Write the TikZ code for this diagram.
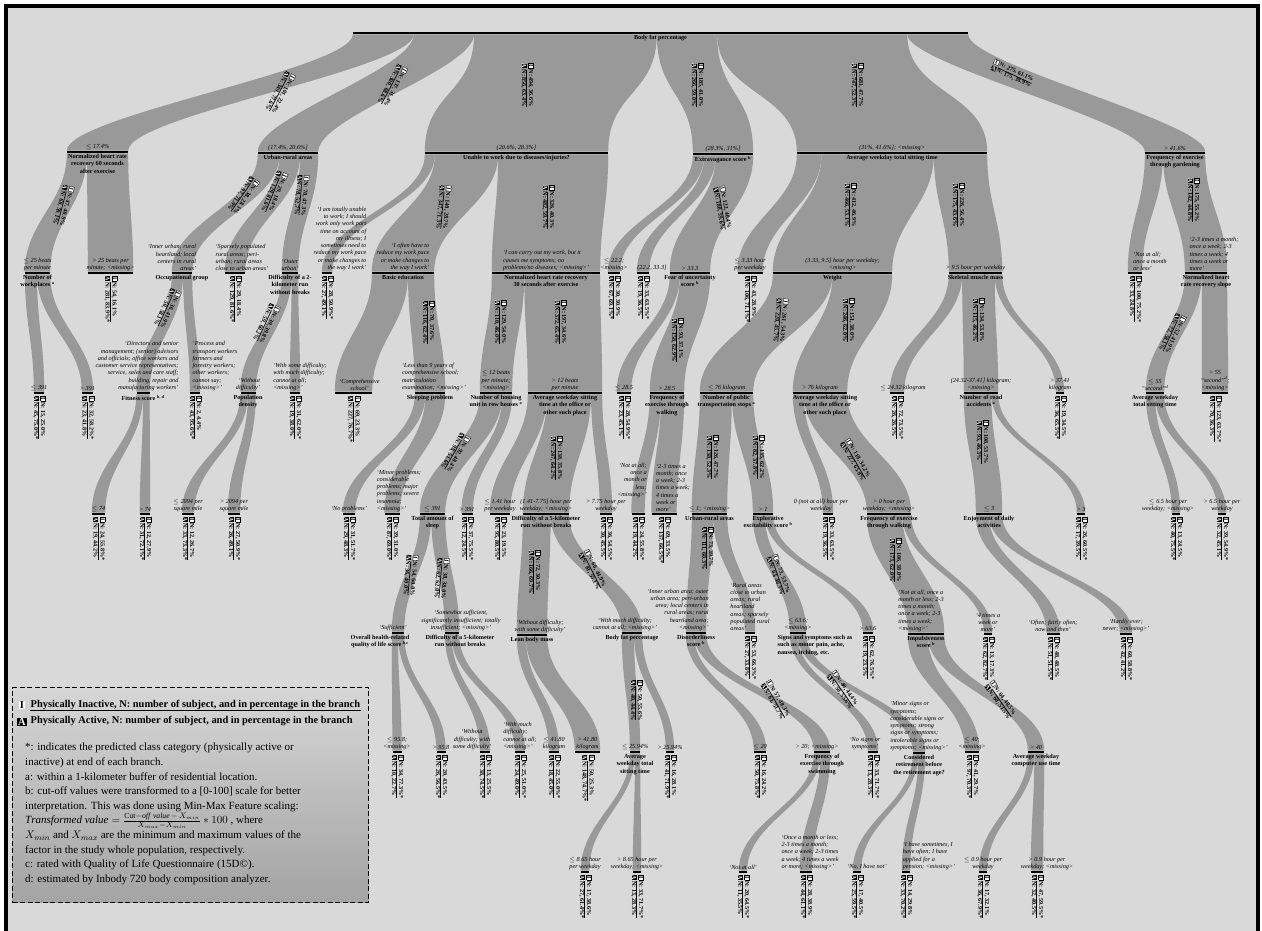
\documentclass[tikz,border=0pt]{standalone}
\usepackage{fontspec}
\setmainfont{Liberation Serif}
\usetikzlibrary{calc}
\definecolor{bgc}{HTML}{D9D9D9}
\definecolor{bandc}{HTML}{999999}
\pgfdeclarelayer{bgl}
\pgfdeclarelayer{bandl}
\pgfsetlayers{bgl,bandl,main}

\newcommand\iconI{{\setlength\fboxsep{0.4pt}\setlength\fboxrule{0.3pt}\fcolorbox{black}{white}{\makebox[4pt]{I}}}}
\newcommand\iconA{{\setlength\fboxsep{0.4pt}\colorbox{black}{\makebox[4pt]{\color{white}A}}}}
\newcommand\cntbox[2]{{\renewcommand\arraystretch{0.95}\setlength\arrayrulewidth{0.7pt}\begin{tabular}{@{}c@{\hspace{1pt}}l@{}}\iconI & #1\\\cline{2-2}\iconA & #2\end{tabular}}}
\newcommand\legI{{\setlength\fboxsep{1pt}\colorbox{white}{\textbf{I}}}}
\newcommand\legA{{\setlength\fboxsep{1pt}\colorbox{black}{\color{white}\textbf{A}}}}

\tikzset{
  bar/.style={fill=black, inner sep=0pt, minimum height=2.2pt},
  thr/.style={font=\fontsize{6.2}{7.3}\selectfont\itshape, align=center, inner sep=0.6pt},
  var/.style={font=\fontsize{6.2}{7.3}\selectfont\bfseries, align=center, inner sep=0.8pt},
  cnt/.style={font=\fontsize{6.1}{7.2}\selectfont\bfseries, inner sep=0.3pt},
}

% internal node: [thr opts]{name}{x}{y}{w}{threshold}{variable}{var opts}
\newcommand\TNode[8][]{%
  \node[bar, minimum width=#5pt] (#2) at (#3,#4) {};
  \node[thr, anchor=south, #1] (#2t) at (#2.north) {#6};
  \node[var, anchor=north, #8] (#2v) at (#2.south) {#7};
}
% leaf: [thr opts]{name}{x}{y}{w}{threshold}{I count}{A count}
\newcommand\LNode[8][]{%
  \node[bar, minimum width=#5pt] (#2) at (#3,#4) {};
  \node[thr, anchor=south, #1] (#2t) at (#2.north) {#6};
  \node[cnt, rotate=-90, anchor=west] (#2c) at ([yshift=-1.2pt]#2.south) {\cntbox{#7}{#8}};
}
% band: [control]{parent}{f1}{f2}{child}
\newcommand\Band[5][50]{%
  \fill[bandc] ($(#2.south west)!#3!(#2.south east)$) .. controls +(0,#1) and +(0,-#1) .. (#5.north west)
    -- (#5.north east) .. controls +(0,-#1) and +(0,#1) .. ($(#2.south west)!#4!(#2.south east)$) -- cycle;
}
% band count label: {name}{x}{y}{angle}{I}{A}
\newcommand\BandL[6]{\node[cnt, rotate=#4] (#1) at (#2,#3) {\cntbox{#5}{#6}};}

\begin{document}
\begin{tikzpicture}[x=1pt,y=-1pt]
\useasboundingbox (0,0) rectangle (1262,930);
\begin{pgfonlayer}{bgl}
  \fill[white] (0,0) rectangle (1262,930);
  \fill[bgc] (5.5,5.5) rectangle (1258,940);
  \draw[line width=4pt] (5.5,940) -- (5.5,5.5) -- (1258,5.5) -- (1258,940);
\end{pgfonlayer}

% ---------- level 1
\TNode{r}{660.5}{33}{615}{}{Body fat percentage}{}
\TNode{n1}{97.5}{152}{61}{$\leq$ 17.4\%}{Normalized heart rate\\recovery 60 seconds\\after exercise}{}
\TNode{n2}{288}{153}{60}{(17.4\%, 20.6\%]}{Urban-rural areas}{}
\TNode{n3}{516.5}{153}{183}{(20.6\%, 28.3\%]}{Unable to work due to diseases/injuries?}{}
\TNode{n4}{723}{154}{60}{(28.3\%, 31\%]}{Extravagance score \textsuperscript{b}}{}
\TNode{n5}{892}{153}{190}{(31\%, 41.6\%]; <missing>}{Average weekday total sitting time}{}
\TNode{n6}{1175}{153}{60}{> 41.6\%}{Frequency of exercise\\through gardening}{}

% ---------- n1
\TNode{n11}{37.5}{273}{25}{$\leq$ 25 beats\\per minute}{Number of\\workplaces \textsuperscript{a}}{}
\LNode{n12}{110.5}{273}{45}{> 25 beats per\\minute; <missing>}{N: 54, 16.1\%}{N: 281, 83.9\%*}
\LNode{n111}{39}{393}{10}{$\leq$ 391}{N: 15, 25.0\%}{N: 45, 75.0\%*}
\LNode{n112}{87.5}{393}{11}{> 391}{N: 32, 58.2\%*}{N: 23, 41.8\%}

% ---------- n2
\TNode[xshift=-10pt,align=right]{n21}{182}{273}{20}{`Inner urban; rural\\heartland; local\\centers in rural\\areas'}{Occupational group}{}
\LNode[xshift=7pt,align=left]{n22}{235}{273}{20}{`Sparsely populated\\rural areas; peri-\\urban; rural areas\\close to urban areas'}{N: 29, 18.4\%}{N: 129, 81.6\%*}
\TNode{n23}{290}{273}{16}{`Outer\\urban'}{Difficulty of a 2-\\kilometer run\\without breaks}{}
\TNode[xshift=-6pt,align=right]{n211}{143}{393}{13}{`Directors and senior\\management; (senior) advisors\\and officials; office workers and\\customer service representatives;\\service, sales and care staff;\\building, repair and\\manufacturing workers'}{Fitness score \textsuperscript{b, d}}{}
\LNode[xshift=20pt,align=left]{n212}{195}{393}{10}{`Process and\\transport workers\\farmers and\\forestry workers;\\other workers;\\cannot say;\\<missing>'}{N: 2, 4.4\%}{N: 43, 95.6\%*}
\LNode{n2111}{98.5}{514}{13}{$\leq$ 74}{N: 24, 55.8\%*}{N: 19, 44.2\%}
\LNode{n2112}{145}{514}{10}{> 74}{N: 12, 27.9\%}{N: 31, 72.1\%*}
\TNode[align=right]{n231}{248}{393}{15}{`Without\\difficulty'}{Population\\density}{}
\LNode[xshift=5pt,align=left]{n232}{295}{393}{10}{`With some difficulty;\\with much difficulty;\\cannot at all;\\<missing>'}{N: 31, 62.0\%*}{N: 19, 38.0\%}
\LNode{n2311}{188}{514}{12}{$\leq$ 2094 per\\square mile}{N: 12, 26.7\%}{N: 33, 73.3\%*}
\LNode{n2312}{234}{514}{12}{> 2094 per\\square mile}{N: 27, 50.9\%*}{N: 26, 49.1\%}

% ---------- n3
\LNode[xshift=13pt,align=right]{n31}{327}{273}{10}{`I am totally unable\\to work; I should\\work only work part\\time on account of\\my illness; I\\sometimes need to\\reduce my work pace\\or make changes to\\the way I work'}{N: 28, 50.9\%*}{N: 27, 49.1\%}
\TNode[align=right]{n32}{403}{273}{62}{`I often have to\\reduce my work pace\\or make changes to\\the way I work'}{Basic education}{}
\TNode[align=left]{n33}{546}{273}{108}{`I can carry out my work, but it\\causes me symptoms; no\\problems/no diseases; <missing>'}{Normalized heart rate recovery\\30 seconds after exercise}{}
\LNode[xshift=6pt]{n321}{353.5}{393}{37}{`Comprehensive\\school'}{N: 69, 23.3\%}{N: 227, 76.7\%*}
\TNode[xshift=4pt,align=left]{n322}{430}{393}{30}{`Less than 9 years of\\comprehensive school;\\matriculation\\examination; <missing>'}{Sleeping problem}{}
\LNode{n3221}{349}{514}{12}{`No problems'}{N: 31, 51.7\%*}{N: 29, 48.3\%}
\LNode[xshift=7pt,align=left]{n3222}{392}{514}{15}{`Minor problems;\\considerable\\problems; major\\problems; severe\\insomnia;\\<missing>'}{N: 39, 31.0\%}{N: 87, 69.0\%*}
\TNode{n331}{496}{393}{32}{$\leq$ 12 beats\\per minute;\\<missing>}{Number of housing\\unit in row houses \textsuperscript{a}}{}
\TNode{n332}{565}{393}{74}{> 12 beats\\per minute}{Average weekday sitting\\time at the office or\\other such place}{}
\TNode{n3311}{432.5}{514}{25}{$\leq$ 391}{Total amount of\\sleep}{}
\LNode{n3312}{467}{514}{11}{> 391}{N: 37, 75.5\%*}{N: 12, 24.5\%}
\TNode[xshift=-5pt]{n33111}{398}{633}{12}{`Sufficient'}{Overall health-related\\quality of life score \textsuperscript{b,c}}{xshift=-18pt}
\TNode[xshift=9pt]{n33112}{452}{633}{14}{`Somewhat sufficient,\\significantly insufficient; totally\\insufficient; <missing>'}{Difficulty of a 5-kilometer\\run without breaks}{xshift=8pt}
\LNode{n331111}{397}{752}{9}{$\leq$ 95.8;\\<missing>}{N: 34, 77.3\%*}{N: 10, 22.7\%}
\LNode{n331112}{441}{752}{9}{> 95.8}{N: 20, 43.5\%}{N: 26, 56.5\%*}
\LNode[xshift=-13pt]{n331121}{485}{752}{10}{`Without\\difficulty; with\\some difficulty'}{N: 13, 25.5\%}{N: 38, 74.5\%*}
\LNode[align=left]{n331122}{520}{752}{10}{`With much\\difficulty;\\cannot at all;\\<missing>'}{N: 25, 51.0\%*}{N: 24, 49.0\%}
\LNode{n3321}{500}{514}{20}{$\leq$ 1.41 hour\\per weekday}{N: 23, 19.5\%}{N: 95, 80.5\%*}
\TNode{n3322}{546}{514}{46}{(1.41-7.75] hour per\\weekday; <missing>}{Difficulty of a 5-kilometer\\run without breaks}{}
\LNode{n3323}{606}{514}{12}{> 7.75 hour per\\weekday}{N: 36, 54.5\%*}{N: 30, 45.5\%}
\TNode[xshift=8pt]{n33221}{532}{635}{30}{`Without difficulty;\\with some difficulty'}{Lean body mass}{}
\TNode[xshift=-7pt]{n33222}{632}{633}{20}{`With much difficulty;\\cannot at all; <missing>'}{Body fat percentage}{}
\LNode{n332211}{554}{752}{10}{$\leq$ 41.80\\kilogram}{N: 22, 55.0\%*}{N: 18, 45.0\%}
\LNode{n332212}{587.5}{752}{25}{> 41.80\\kilogram}{N: 50, 25.3\%}{N: 148, 74.7\%*}
\TNode{n332221}{635}{752}{10}{$\leq$ 25.94\%}{Average\\weekday total\\sitting time}{}
\LNode{n332222}{670}{752}{8}{> 25.94\%}{N: 16, 28.1\%}{N: 41, 71.9\%*}
\LNode{n3322211}{585}{872}{8}{$\leq$ 8.65 hour\\per weekday}{N: 17, 38.6\%}{N: 27, 61.4\%*}
\LNode{n3322212}{637}{872}{8}{> 8.65 hour per\\weekday; <missing>}{N: 33, 71.7\%*}{N: 13, 28.3\%}

% ---------- n4
\LNode{n41}{614}{273}{12}{$\leq$ 22.2;\\<missing>}{N: 30, 30.9\%}{N: 67, 69.1\%*}
\LNode[xshift=9pt]{n42}{643}{273}{12}{(22.2, 33.3]}{N: 33, 63.5\%*}{N: 19, 36.5\%}
\TNode{n43}{690}{273}{40}{> 33.3}{Fear of uncertainty\\score \textsuperscript{b}}{}
\LNode{n431}{624}{393}{14}{$\leq$ 28.5}{N: 28, 54.9\%*}{N: 23, 45.1\%}
\TNode{n432}{667}{393}{34}{> 28.5}{Frequency of\\exercise through\\walking}{}
\LNode[xshift=-6pt,yshift=14pt,align=right]{n4321}{638}{514}{13}{`Not at all;\\once a\\month or\\less;\\<missing>'}{N: 24, 55.8\%*}{N: 19, 44.2\%}
\LNode[xshift=9pt,align=left]{n4322}{664}{514}{25}{`2-3 times a\\month; once\\a week; 2-3\\times a week;\\4 times a\\week or\\more'}{N: 69, 33.5\%}{N: 137, 66.5\%*}

% ---------- n5
\LNode{n51}{750}{273}{25}{$\leq$ 3.33 hour\\per weekday}{N: 43, 28.9\%}{N: 106, 71.1\%*}
\TNode[xshift=10pt]{n52}{832.5}{273}{119}{(3.33, 9.5] hour per weekday;\\<missing>}{Weight}{}
\TNode{n53}{975.5}{273}{53}{> 9.5 hour per weekday}{Skeletal muscle mass}{}
\TNode{n521}{726.5}{393}{53}{$\leq$ 76 kilogram}{Number of public\\transportation stops \textsuperscript{a}}{}
\TNode{n522}{820}{393}{54}{> 76 kilogram}{Average weekday sitting\\time at the office or\\other such place}{xshift=5pt}
\TNode{n5211}{709.5}{514}{35}{$\leq$ 1; <missing>}{Urban-rural areas}{}
\TNode{n5212}{763}{514}{20}{> 1}{Explorative\\excitability score \textsuperscript{b}}{xshift=5pt}
\TNode[xshift=-18pt,align=right]{n52111}{696}{633}{20}{`Inner urban area; outer\\urban area; peri-urban\\area; local centers in\\rural areas; rural\\heartland area;\\<missing>'}{Disorderliness\\score \textsuperscript{b}}{}
\LNode[align=left]{n52112}{750}{633}{10}{`Rural areas\\close to urban\\areas; rural\\heartland\\areas; sparsely\\populated rural\\areas'}{N: 53, 66.3\%*}{N: 27, 33.8\%}
\LNode{n521111}{760}{752}{12}{$\leq$ 20}{N: 16, 24.2\%}{N: 50, 75.8\%*}
\TNode[xshift=-5pt]{n521112}{822}{752}{16}{> 20; <missing>}{Frequency of\\exercise through\\swimming}{}
\LNode{n5211121}{743}{872}{8}{`Not at all'}{N: 20, 64.5\%*}{N: 11, 35.5\%}
\LNode[xshift=4pt,align=left]{n5211122}{806}{872}{12}{`Once a month or less;\\2-3 times a month;\\once a week; 2-3 times\\a week; 4 times a week\\or more; <missing>'}{N: 28, 38.9\%}{N: 44, 61.1\%*}
\TNode{n52121}{798}{633}{16}{$\leq$ 63.6;\\<missing>}{Signs and symptoms such as\\such as minor pain, ache,\\nausea, itching, etc.}{xshift=17pt,align=left}
\LNode{n52122}{868}{633}{10}{> 63.6}{N: 62, 76.5\%*}{N: 19, 23.5\%}
\LNode[xshift=-8pt]{n521211}{873}{752}{10}{`No signs or\\symptoms'}{N: 33, 71.7\%*}{N: 13, 28.3\%}
\TNode[align=left]{n521212}{919}{753}{12}{`Minor signs or\\symptoms;\\considerable signs or\\symptoms; strong\\signs or symptoms;\\intolerable signs or\\symptoms; <missing>'}{Considered\\retirement before\\the retirement age?}{}
\LNode[xshift=10pt]{n5212121}{857}{872}{8}{`No, I have not'}{N: 17, 40.5\%}{N: 25, 59.5\%*}
\LNode[xshift=23pt,align=left]{n5212122}{906}{872}{8}{`I have sometimes, I\\have often; I have\\applied for a\\pension; <missing>'}{N: 14, 29.8\%}{N: 33, 70.2\%*}
\LNode[xshift=-7pt]{n5221}{828}{514}{10}{0 (not at all) hour per\\weekday}{N: 33, 63.5\%*}{N: 19, 36.5\%}
\TNode{n5222}{889}{514}{44}{> 0 hour per\\weekday; <missing>}{Frequency of exercise\\through walking}{}
\TNode[xshift=-5pt,align=left]{n52221}{926}{634}{36}{`Not at all, once a\\month or less; 2-3\\times a month;\\once a week; 2-3\\times a week;\\<missing>'}{Impulsiveness\\score \textsuperscript{b}}{}
\LNode{n52222}{988}{634}{8}{`4 times a\\week or\\more'}{N: 13, 17.3\%}{N: 62, 82.7\%*}
\LNode{n522211}{972}{752}{14}{$\leq$ 40;\\<missing>}{N: 41, 29.7\%}{N: 97, 70.3\%*}
\TNode{n522212}{1036}{752}{16}{> 40}{Average weekday\\computer use time}{}
\LNode{n5222121}{983}{872}{8}{$\leq$ 0.9 hour per\\weekday}{N: 17, 32.1\%}{N: 36, 67.9\%*}
\LNode[xshift=10pt]{n5222122}{1037}{872}{12}{> 0.9 hour per\\weekday; <missing>}{N: 47, 59.5\%*}{N: 32, 40.5\%}
\LNode[xshift=6pt]{n531}{897}{393}{14}{$\leq$ 24.32 kilogram}{N: 72, 73.5\%*}{N: 26, 26.5\%}
\TNode{n532}{981}{393}{34}{(24.32-37.41] kilogram;\\<missing>}{Number of road\\accidents \textsuperscript{a}}{}
\LNode{n533}{1060}{393}{8}{> 37.41\\kilogram}{N: 19, 34.5\%}{N: 36, 65.5\%*}
\TNode{n5321}{989}{514}{26}{$\leq$ 3}{Enjoyment of daily\\activities}{}
\LNode{n5322}{1081}{514}{8}{> 3}{N: 26, 60.5\%*}{N: 17, 39.5\%}
\LNode{n53211}{1053}{634}{13}{`Often; fairly often;\\now and then'}{N: 48, 48.5\%}{N: 51, 51.5\%*}
\LNode{n53212}{1126}{634}{12}{`Hardly ever;\\never; <missing>'}{N: 60, 58.8\%*}{N: 42, 41.2\%}

% ---------- n6
\LNode[xshift=15pt,align=left]{n61}{1135}{273}{14}{`Not at all;\\once a month\\or less'}{N: 100, 75.2\%*}{N: 33, 24.8\%}
\TNode[xshift=8pt,align=left]{n62}{1206}{273}{42}{`2-3 times a month;\\once a week; 2-3\\times a week; 4\\times a week or\\more'}{Normalized heart\\rate recovery slope}{}
\TNode{n621}{1155}{393}{18}{$\leq$ 55\\``second''\textsuperscript{d}}{Average weekday\\total sitting time}{}
\LNode{n622}{1215}{393}{26}{> 55\\``second''\textsuperscript{d};\\<missing>}{N: 123, 63.7\%*}{N: 70, 36.3\%}
\LNode[xshift=-8pt]{n6211}{1176}{514}{8}{$\leq$ 6.5 hour per\\weekday; <missing>}{N: 13, 24.5\%}{N: 40, 75.5\%*}
\LNode{n6212}{1222}{514}{8}{> 6.5 hour per\\weekday}{N: 39, 54.9\%*}{N: 32, 45.1\%}

% ---------- bands
\begin{pgfonlayer}{bandl}
\Band[35]{r}{0}{0.099}{n1}
\Band[35]{r}{0.099}{0.197}{n2}
\Band[60]{r}{0.197}{0.494}{n3}
\Band[60]{r}{0.494}{0.592}{n4}
\Band[60]{r}{0.592}{0.901}{n5}
\Band[30]{r}{0.901}{1}{n6}
\Band{n1}{0}{0.33}{n11} \Band{n1}{0.33}{1}{n12}
\Band{n11}{0}{0.48}{n111} \Band{n11}{0.48}{1}{n112}
\Band{n2}{0}{0.36}{n21} \Band{n2}{0.36}{0.7}{n22} \Band{n2}{0.7}{1}{n23}
\Band{n21}{0}{0.55}{n211} \Band{n21}{0.55}{1}{n212}
\Band{n211}{0}{0.5}{n2111} \Band{n211}{0.5}{1}{n2112}
\Band{n23}{0}{0.6}{n231} \Band{n23}{0.6}{1}{n232}
\Band{n231}{0}{0.5}{n2311} \Band{n231}{0.5}{1}{n2312}
\Band{n3}{0}{0.055}{n31} \Band{n3}{0.055}{0.40}{n32} \Band{n3}{0.40}{1}{n33}
\Band{n32}{0}{0.58}{n321} \Band{n32}{0.58}{1}{n322}
\Band{n322}{0}{0.35}{n3221} \Band{n322}{0.35}{1}{n3222}
\Band{n33}{0}{0.3}{n331} \Band{n33}{0.3}{1}{n332}
\Band{n331}{0}{0.7}{n3311} \Band{n331}{0.7}{1}{n3312}
\Band{n3311}{0}{0.45}{n33111} \Band{n3311}{0.45}{1}{n33112}
\Band{n33111}{0}{0.5}{n331111} \Band{n33111}{0.5}{1}{n331112}
\Band{n33112}{0}{0.45}{n331121} \Band{n33112}{0.45}{1}{n331122}
\Band{n332}{0}{0.26}{n3321} \Band{n332}{0.26}{0.85}{n3322} \Band{n332}{0.85}{1}{n3323}
\Band{n3322}{0}{0.6}{n33221} \Band{n3322}{0.6}{1}{n33222}
\Band{n33221}{0}{0.3}{n332211} \Band{n33221}{0.3}{1}{n332212}
\Band{n33222}{0}{0.6}{n332221} \Band{n33222}{0.6}{1}{n332222}
\Band{n332221}{0}{0.5}{n3322211} \Band{n332221}{0.5}{1}{n3322212}
\Band{n4}{0}{0.19}{n41} \Band{n4}{0.19}{0.38}{n42} \Band{n4}{0.38}{1}{n43}
\Band{n43}{0}{0.25}{n431} \Band{n43}{0.25}{1}{n432}
\Band{n432}{0}{0.33}{n4321} \Band{n432}{0.33}{1}{n4322}
\Band{n5}{0}{0.13}{n51} \Band{n5}{0.13}{0.72}{n52} \Band{n5}{0.72}{1}{n53}
\Band{n52}{0}{0.5}{n521} \Band{n52}{0.5}{1}{n522}
\Band{n521}{0}{0.6}{n5211} \Band{n521}{0.6}{1}{n5212}
\Band{n5211}{0}{0.6}{n52111} \Band{n5211}{0.6}{1}{n52112}
\Band{n52111}{0}{0.4}{n521111} \Band{n52111}{0.4}{1}{n521112}
\Band{n521112}{0}{0.4}{n5211121} \Band{n521112}{0.4}{1}{n5211122}
\Band{n5212}{0}{0.6}{n52121} \Band{n5212}{0.6}{1}{n52122}
\Band{n52121}{0}{0.45}{n521211} \Band{n52121}{0.45}{1}{n521212}
\Band{n521212}{0}{0.45}{n5212121} \Band{n521212}{0.45}{1}{n5212122}
\Band{n522}{0}{0.2}{n5221} \Band{n522}{0.2}{1}{n5222}
\Band{n5222}{0}{0.8}{n52221} \Band{n5222}{0.8}{1}{n52222}
\Band{n52221}{0}{0.55}{n522211} \Band{n52221}{0.55}{1}{n522212}
\Band{n522212}{0}{0.4}{n5222121} \Band{n522212}{0.4}{1}{n5222122}
\Band{n53}{0}{0.25}{n531} \Band{n53}{0.25}{0.86}{n532} \Band{n53}{0.86}{1}{n533}
\Band{n532}{0}{0.8}{n5321} \Band{n532}{0.8}{1}{n5322}
\Band{n5321}{0}{0.5}{n53211} \Band{n5321}{0.5}{1}{n53212}
\Band{n6}{0}{0.3}{n61} \Band{n6}{0.3}{1}{n62}
\Band{n62}{0}{0.4}{n621} \Band{n62}{0.4}{1}{n622}
\Band{n621}{0}{0.5}{n6211} \Band{n621}{0.5}{1}{n6212}
\end{pgfonlayer}

% ---------- band count labels
\BandL{n1b}{280}{92}{-118}{N: 101, 22.4\%}{N: 349, 77.6\%}
\BandL{n2b}{392}{85}{-118}{N: 137, 31.4\%}{N: 300, 68.6\%}
\BandL{n3b}{527}{85}{-90}{N: 494, 36.6\%}{N: 856, 63.4\%}
\BandL{n4b}{697}{85}{-90}{N: 185, 41.0\%}{N: 266, 59.0\%}
\BandL{n5b}{857}{85}{-90}{N: 681, 47.7\%}{N: 747, 52.3\%}
\BandL{n6b}{1012}{74}{-25}{N: 275, 61.1\%}{N: 175, 38.9\%}
\BandL{n11b}{63}{205}{-105}{N: 47, 40.9\%}{N: 68, 59.1\%}
\BandL{n21b}{243}{195}{-125}{N: 38, 28.1\%}{N: 97, 71.9\%}
\BandL{n22b}{274}{192}{-112}{N: 29, 18.4\%}{N: 129, 81.6\%}
\BandL{n23b}{301}{195}{-95}{N: 70, 47.3\%}{N: 78, 52.7\%}
\BandL{n211b}{167}{308}{-115}{N: 36, 41.9\%}{N: 50, 58.1\%}
\BandL{n231b}{266}{323}{-115}{N: 39, 39.8\%}{N: 59, 60.2\%}
\BandL{n32b}{443}{207}{-95}{N: 140, 28.7\%}{N: 347, 71.3\%}
\BandL{n33b}{548}{207}{-90}{N: 326, 40.3\%}{N: 482, 59.7\%}
\BandL{n322b}{428}{322}{-90}{N: 70, 37.6\%}{N: 116, 62.4\%}
\BandL{n331b}{500}{322}{-90}{N: 129, 54.0\%}{N: 110, 46.0\%}
\BandL{n332b}{560}{322}{-90}{N: 197, 34.6\%}{N: 372, 65.4\%}
\BandL{n3311b}{455}{452}{-120}{N: 92, 48.4\%}{N: 98, 51.6\%}
\BandL{n33111b}{410}{575}{-95}{N: 54, 60.0\%}{N: 36, 40.0\%}
\BandL{n33112b}{441}{578}{-95}{N: 38, 38.0\%}{N: 62, 62.0\%}
\BandL{n3322b}{556}{458}{-90}{N: 138, 35.8\%}{N: 247, 64.2\%}
\BandL{n33221b}{534}{572}{-90}{N: 72, 30.3\%}{N: 166, 69.7\%}
\BandL{n33222b}{592}{570}{-63}{N: 66, 44.9\%}{N: 81, 55.1\%}
\BandL{n332221b}{636}{700}{-90}{N: 50, 55.6\%}{N: 40, 44.4\%}
\BandL{n43b}{722}{208}{-80}{N: 122, 40.4\%}{N: 180, 59.6\%}
\BandL{n432b}{677}{340}{-90}{N: 93, 37.1\%}{N: 158, 62.9\%}
\BandL{n52b}{850}{205}{-90}{N: 412, 46.9\%}{N: 466, 53.1\%}
\BandL{n53b}{958}{205}{-90}{N: 226, 56.4\%}{N: 175, 43.6\%}
\BandL{n521b}{780}{320}{-95}{N: 261, 54.3\%}{N: 220, 45.7\%}
\BandL{n522b}{848}{320}{-90}{N: 151, 38.0\%}{N: 246, 62.0\%}
\BandL{n5211b}{712}{457}{-90}{N: 126, 47.7\%}{N: 138, 52.3\%}
\BandL{n5212b}{758}{457}{-90}{N: 135, 62.2\%}{N: 82, 37.8\%}
\BandL{n52111b}{707}{548}{-90}{N: 73, 39.7\%}{N: 111, 60.3\%}
\BandL{n521112b}{775}{700}{-60}{N: 57, 48.3\%}{N: 61, 51.7\%}
\BandL{n52121b}{778}{575}{-70}{N: 73, 53.7\%}{N: 63, 46.3\%}
\BandL{n521212b}{842}{690}{-55}{N: 40, 44.4\%}{N: 50, 55.6\%}
\BandL{n5222b}{855}{460}{-60}{N: 118, 34.2\%}{N: 227, 65.8\%}
\BandL{n52221b}{895}{560}{-90}{N: 106, 38.0\%}{N: 173, 62.0\%}
\BandL{n522212b}{1000}{700}{-55}{N: 64, 48.5\%}{N: 68, 51.5\%}
\BandL{n532b}{978}{320}{-90}{N: 134, 53.8\%}{N: 115, 46.2\%}
\BandL{n5321b}{982}{442}{-90}{N: 108, 53.7\%}{N: 93, 46.3\%}
\BandL{n62b}{1193}{200}{-90}{N: 175, 55.2\%}{N: 142, 44.8\%}
\BandL{n621b}{1172}{333}{-115}{N: 52, 41.9\%}{N: 72, 58.1\%}

% ---------- legend
\node[draw=black, line width=1.4pt, dash pattern=on 5pt off 2.5pt, top color=black!16, bottom color=black!36,
  minimum width=356pt, minimum height=215pt, anchor=north west, inner sep=0pt] (legbox) at (12,687) {};
\node[font=\fontsize{10.5}{11}\selectfont, inner sep=0pt] (legI) at (22,705) {\legI};
\node[font=\fontsize{10.4}{11}\selectfont\bfseries, anchor=west, inner sep=0.5pt] (legIt) at (30,705) {Physically Inactive, N: number of subject, and in percentage in the branch};
\draw[line width=0.5pt] (legIt.south west) -- (legIt.south east);
\node[font=\fontsize{10.5}{11}\selectfont, inner sep=0pt] (legA) at (22,722) {\legA};
\node[font=\fontsize{10.4}{11}\selectfont\bfseries, anchor=west, inner sep=0.5pt] (legAt) at (30,721) {Physically Active, N: number of subject, and in percentage in the branch};
\node[anchor=north west, align=left, inner sep=0pt, font=\fontsize{11}{14.6}\selectfont] (legtext) at (25,743) {%
*: indicates the predicted class category (physically active or\\
inactive) at end of each branch.\\
a: within a 1-kilometer buffer of residential location.\\
b: cut-off values were transformed to a [0-100] scale for better\\
interpretation. This was done using Min-Max Feature scaling:\\
$\mathit{Transformed\ value}=\frac{\mathrm{Cut}\mathit{-off\ value}\,-\,X_{min}}{X_{max}-X_{min}}*100$ , where\\
$X_{min}$ and $X_{max}$ are the minimum and maximum values of the\\
factor in the study whole population, respectively.\\
c: rated with Quality of Life Questionnaire (15D©).\\
d: estimated by Inbody 720 body composition analyzer.};
\end{tikzpicture}
\end{document}
